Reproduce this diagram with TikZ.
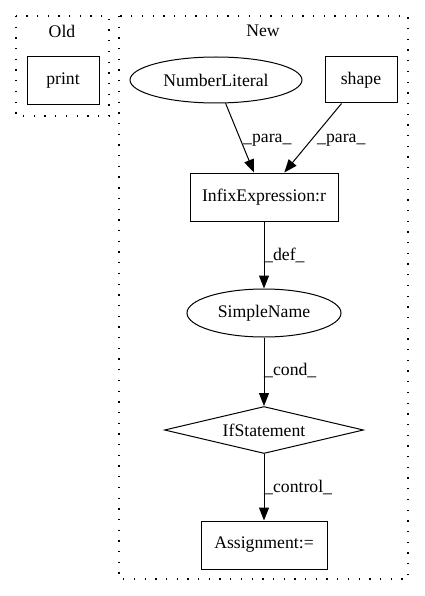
\documentclass[tikz,border=0pt]{standalone}
\usepackage{fontspec}
\setmainfont{Liberation Serif}
\usetikzlibrary{arrows.meta,shapes.geometric}
\begin{document}
\begin{tikzpicture}[x=1pt,y=-1pt,
  every node/.style={font=\fontsize{17.7pt}{20pt}\selectfont, inner sep=0pt},
  cluster/.style={draw, line width=1.3pt, dash pattern=on 1.3pt off 9.4pt},
  boxnode/.style={draw, line width=1pt, rectangle},
  ellnode/.style={draw, line width=1pt, ellipse},
  dianode/.style={draw, line width=1pt, diamond, aspect=4.2},
  arr/.style={draw, line width=1pt, -{Triangle[length=13pt,width=10pt]}},
  lab/.style={anchor=west}]
\useasboundingbox (0,0) rectangle (424,596);
% clusters
\draw[cluster] (16,16) rectangle (109,116);
\draw[cluster] (119,16) rectangle (408,579);
\node (oldlab) at (62,31) {Old};
\node (newlab) at (263,31) {New};
% nodes
\node[boxnode, minimum width=72pt, minimum height=48pt] (print) at (63,81) {print};
\node[ellnode, minimum width=172pt, minimum height=46pt] (nl) at (216,80) {NumberLiteral};
\node[boxnode, minimum width=72pt, minimum height=46pt] (shape) at (361,80) {shape};
\node[boxnode, minimum width=148pt, minimum height=48pt] (infix) at (264,197) {InfixExpression:r};
\node[ellnode, minimum width=154pt, minimum height=48pt] (sn) at (264,313) {SimpleName};
\node[dianode, minimum width=199pt, minimum height=47pt] (ifs) at (264,430) {IfStatement};
\node[boxnode, minimum width=126pt, minimum height=48pt] (asg) at (264,545) {Assignment:=};
% edges
\draw[arr] (nl) -- (infix);
\draw[arr] (shape) -- (infix);
\draw[arr] (infix) -- (sn);
\draw[arr] (sn) -- (ifs);
\draw[arr] (ifs) -- (asg);
% labels
\node[lab] (l1) at (243,140) {\_para\_};
\node[lab] (l2) at (317,140) {\_para\_};
\node[lab] (l3) at (264,255) {\_def\_};
\node[lab] (l4) at (264,370) {\_cond\_};
\node[lab] (l5) at (264,487) {\_control\_};
\end{tikzpicture}
\end{document}
